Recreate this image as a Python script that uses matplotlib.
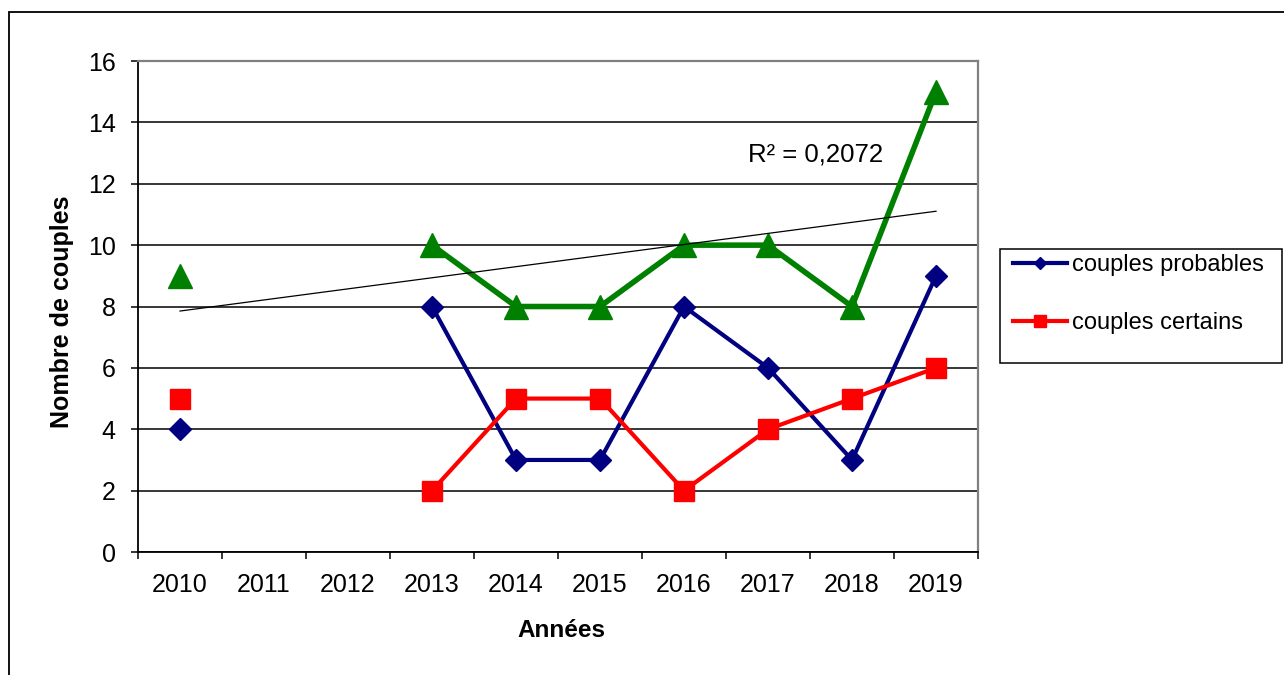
import matplotlib
matplotlib.use("Agg")
import matplotlib.pyplot as plt
from matplotlib.patches import Rectangle
import numpy as np

plt.rcParams.update({
    "font.family": ["Liberation Sans", "DejaVu Sans"],
    "font.size": 18,
})

# data (NaN = no count for that year)
years = ["2010", "2011", "2012", "2013", "2014", "2015", "2016", "2017", "2018", "2019"]
couples_total = [9, np.nan, np.nan, 10, 8, 8, 10, 10, 8, 15]
couples_probables = [4, np.nan, np.nan, 8, 3, 3, 8, 6, 3, 9]
couples_certains = [5, np.nan, np.nan, 2, 5, 5, 2, 4, 5, 6]
y_ticks = [0, 2, 4, 6, 8, 10, 12, 14, 16]

GREEN = "#008000"
NAVY = "#000080"
RED = "#FF0000"

fig = plt.figure(figsize=(12.84, 6.75), dpi=100)
ax = fig.add_axes([0.1075, 0.1822, 0.6542, 0.7274])

x = np.arange(len(years))
tot = np.array(couples_total, dtype=float)

ax.plot(x, tot, color=GREEN, lw=4, marker="^", ms=17, zorder=3)
ax.plot(x, couples_probables, color=NAVY, lw=3, marker="D", ms=11,
        zorder=4, label="couples probables")
ax.plot(x, couples_certains, color=RED, lw=3, marker="s", ms=14,
        zorder=5, label="couples certains")

# linear trendline on the total counts
ok = ~np.isnan(tot)
slope, intercept = np.polyfit(x[ok], tot[ok], 1)
fit = slope * x + intercept
r2 = np.corrcoef(x[ok], tot[ok])[0, 1] ** 2
ax.plot(x, fit, color="black", lw=0.9, zorder=3.5)
ax.text(0.806, 0.8086, f"R² = {r2:.4f}".replace(".", ","), transform=ax.transAxes,
        ha="center", va="center", fontsize=18.5)

# axes styling, Excel-like
ax.set_xlim(-0.5, len(years) - 0.5)
ax.set_ylim(0, 16)
ax.set_yticks(y_ticks)
ax.yaxis.grid(True, color="black", lw=1.1)
ax.set_axisbelow(True)
ax.set_xticks(x)
ax.set_xticklabels(years)
ax.set_xticks(np.arange(len(years) + 1) - 0.5, minor=True)
ax.tick_params(axis="x", which="major", length=0, pad=15, labelsize=18)
ax.tick_params(axis="x", which="minor", length=5, width=1.1, direction="out")
ax.tick_params(axis="y", length=5, width=1.1, pad=11, labelsize=18)
for side in ("left", "bottom"):
    ax.spines[side].set_color("black")
    ax.spines[side].set_linewidth(1.3)
for side in ("top", "right"):
    ax.spines[side].set_color("#808080")
    ax.spines[side].set_linewidth(1.6)

ax.set_ylabel("Nombre de couples", fontsize=18, fontweight="bold")
ax.yaxis.label.set_va("center")
ax.yaxis.set_label_coords(-0.0905, 0.49)
ax.set_xlabel("Années", fontsize=17.5, fontweight="bold")
ax.xaxis.label.set_va("center")
ax.xaxis.set_label_coords(0.5045, -0.159)

# legend with a hand-drawn frame
fig.legend(loc="upper left", bbox_to_anchor=(0.7890, 0.623), frameon=False,
           fontsize=17, handlelength=2.3, handletextpad=0.2, labelspacing=1.5,
           borderaxespad=0, borderpad=0, markerscale=0.6)
fig.patches.append(Rectangle((0.7788, 0.462), 0.2196, 0.169, transform=fig.transFigure,
                             fill=False, edgecolor="black", lw=1.1))

# outer chart-area border (runs off the right and bottom edges)
fig.patches.append(Rectangle((0.0070, -0.5), 2.0, 1.4822, transform=fig.transFigure,
                             fill=False, edgecolor="black", lw=1.3))

fig.savefig("out.png", dpi=100)
